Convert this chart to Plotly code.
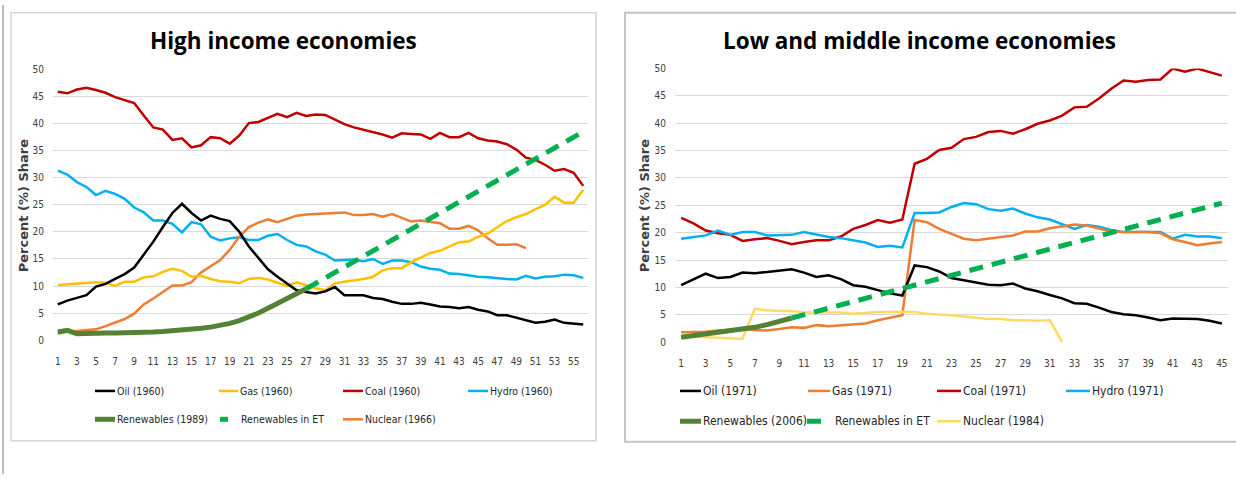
import plotly.graph_objects as go

# ---------------- High income economies (years since 1960) ----------------
hi_years = list(range(1, 57))
hi_oil = [6.6, 7.3, 7.8, 8.3, 9.9, 10.4, 11.3, 12.2, 13.4, 15.8,
          18.2, 20.9, 23.5, 25.2, 23.5, 22.1, 23.0, 22.4, 22.0, 20.0,
          17.3, 15.2, 13.1, 11.7, 10.5, 9.2, 8.9, 8.6, 9.0, 9.8,
          8.3, 8.3, 8.3, 7.8, 7.6, 7.1, 6.7, 6.7, 6.9, 6.6,
          6.2, 6.1, 5.9, 6.1, 5.6, 5.3, 4.6, 4.6, 4.1, 3.6,
          3.2, 3.4, 3.8, 3.2, 3.0, 2.9]
hi_gas = [10.2, 10.3, 10.5, 10.6, 10.7, 10.6, 10.0, 10.8, 10.8, 11.6,
          11.8, 12.6, 13.2, 12.8, 11.7, 11.9, 11.3, 10.9, 10.8, 10.5,
          11.3, 11.5, 11.2, 10.6, 10.0, 10.7, 10.1, 9.6, 9.2, 10.5,
          10.8, 11.0, 11.3, 11.7, 12.9, 13.3, 13.3, 14.4, 15.3, 16.1,
          16.5, 17.3, 18.1, 18.2, 19.1, 19.7, 20.8, 22.0, 22.7, 23.3,
          24.2, 25.0, 26.5, 25.4, 25.4, 27.8]
hi_coal = [45.9, 45.6, 46.3, 46.6, 46.2, 45.7, 44.9, 44.4, 43.8, 41.5,
           39.3, 38.9, 37.0, 37.3, 35.6, 36.0, 37.5, 37.3, 36.3, 37.8,
           40.1, 40.3, 41.1, 41.8, 41.2, 42.0, 41.4, 41.7, 41.6, 40.8,
           39.9, 39.3, 38.9, 38.5, 38.0, 37.4, 38.2, 38.1, 38.0, 37.2,
           38.3, 37.5, 37.5, 38.3, 37.3, 36.9, 36.7, 36.2, 35.2, 33.7,
           33.3, 32.4, 31.3, 31.6, 30.9, 28.5]
hi_hydro = [31.3, 30.6, 29.2, 28.3, 26.8, 27.6, 27.0, 26.1, 24.5, 23.6,
            22.1, 22.1, 21.5, 19.9, 21.8, 21.4, 19.1, 18.4, 18.8, 19.0,
            18.5, 18.5, 19.3, 19.6, 18.5, 17.6, 17.3, 16.4, 15.8, 14.7,
            14.8, 14.9, 14.6, 15.0, 14.1, 14.7, 14.7, 14.4, 13.6, 13.2,
            13.0, 12.3, 12.2, 11.9, 11.7, 11.6, 11.4, 11.3, 11.2, 11.9,
            11.4, 11.7, 11.8, 12.1, 12.0, 11.5]
hi_nuclear = [1.2, 1.6, 1.7, 1.8, 2.0, 2.6, 3.2, 3.9, 4.9, 6.6,
              7.7, 8.9, 10.1, 10.1, 10.7, 12.5, 13.6, 14.8, 16.7, 19.1,
              20.9, 21.7, 22.3, 21.8, 22.4, 23.0, 23.2, 23.3, 23.5, 23.6,
              23.6, 23.1, 23.1, 23.3, 22.8, 23.3, 22.6, 21.9, 22.1, 21.8,
              21.6, 20.6, 20.6, 21.1, 20.3, 18.8, 17.6, 17.6, 17.7, 17.0]
hi_renew = [1.5, 1.8, 1.2, 1.3, 1.3, 1.3, 1.3, 1.3, 1.4, 1.4,
            1.5, 1.6, 1.7, 1.8, 2.0, 2.2, 2.4, 2.7, 3.1, 3.6,
            4.2, 5.0, 5.9, 6.8, 7.7, 8.6, 9.5]
hi_et_years = list(range(27, 57))
hi_et = [9.5, 10.5, 11.5, 12.5, 13.5, 14.5, 15.5, 16.5, 17.5, 18.5,
         19.5, 20.5, 21.5, 22.5, 23.5, 24.5, 25.5, 26.5, 27.5, 28.5,
         29.5, 30.5, 31.5, 32.5, 33.5, 34.5, 35.5, 36.5, 37.5, 38.5]

# ------------- Low and middle income economies (years since 1971) -------------
lm_years = list(range(1, 46))
lm_oil = [10.4, 11.4, 12.5, 11.7, 11.9, 12.7, 12.6, 12.8, 13.1, 13.3,
          12.7, 11.9, 12.2, 11.5, 10.4, 10.1, 9.5, 8.9, 8.5, 14.0,
          13.7, 12.9, 11.7, 11.3, 11.0, 10.5, 10.4, 10.7, 9.8, 9.3,
          8.6, 8.0, 7.1, 7.0, 6.3, 5.5, 5.1, 4.9, 4.5, 4.0,
          4.3, 4.3, 4.2, 3.9, 3.4]
lm_gas = [1.8, 1.8, 1.9, 2.1, 2.3, 2.4, 2.2, 2.1, 2.4, 2.7,
          2.6, 3.1, 2.9, 3.1, 3.3, 3.4, 4.0, 4.5, 4.9, 22.3,
          21.9, 20.7, 19.8, 18.9, 18.6, 18.9, 19.2, 19.5, 20.2, 20.2,
          20.8, 21.1, 21.5, 21.3, 20.8, 20.2, 20.1, 20.1, 20.1, 19.9,
          18.8, 18.3, 17.7, 18.0, 18.3]
lm_coal = [22.7, 21.7, 20.4, 19.9, 19.6, 18.5, 18.8, 19.0, 18.5, 17.9,
           18.3, 18.6, 18.6, 19.3, 20.7, 21.4, 22.3, 21.8, 22.4, 32.6,
           33.5, 35.1, 35.5, 37.1, 37.5, 38.4, 38.6, 38.1, 38.9, 39.9,
           40.5, 41.4, 42.9, 43.0, 44.5, 46.3, 47.8, 47.6, 47.9, 48.0,
           50.0, 49.4, 50.0, 49.4, 48.7]
lm_hydro = [18.9, 19.2, 19.5, 20.4, 19.6, 20.1, 20.1, 19.5, 19.6, 19.6,
            20.1, 19.6, 19.2, 19.0, 18.6, 18.2, 17.4, 17.6, 17.3, 23.6,
            23.6, 23.7, 24.7, 25.4, 25.2, 24.3, 24.0, 24.4, 23.5, 22.8,
            22.4, 21.6, 20.7, 21.4, 21.1, 20.5, 20.1, 20.1, 20.1, 20.1,
            18.9, 19.6, 19.3, 19.3, 19.0]
lm_nuclear = [1.0, 1.0, 0.9, 0.8, 0.7, 0.6, 6.1, 5.8, 5.7, 5.7,
              5.4, 5.4, 5.5, 5.4, 5.2, 5.4, 5.5, 5.5, 5.5, 5.5,
              5.2, 5.1, 4.9, 4.7, 4.5, 4.2, 4.2, 4.0, 4.0, 3.9,
              4.0, 0.0]
lm_renew = [0.9, 1.2, 1.4, 1.7, 2.0, 2.3, 2.7, 3.2, 3.7, 4.4]
lm_et_years = list(range(10, 46))
lm_et = [4.4, 5.0, 5.6, 6.2, 6.8, 7.4, 8.0, 8.6, 9.2, 9.8,
         10.4, 11.0, 11.6, 12.2, 12.8, 13.4, 14.0, 14.6, 15.2, 15.8,
         16.4, 17.0, 17.6, 18.2, 18.8, 19.4, 20.0, 20.6, 21.2, 21.8,
         22.4, 23.0, 23.6, 24.2, 24.8, 25.4]

y_ticks = [0, 5, 10, 15, 20, 25, 30, 35, 40, 45, 50]

# ---------------- styling ----------------
W, H = 1236, 480
C_OIL = "#000000"
C_GAS_HI = "#FFC000"
C_COAL = "#C00000"
C_HYDRO = "#00B0F0"
C_REN = "#548235"
C_ET = "#00B050"
C_NUC_HI = "#ED7D31"
C_GAS_LM = "#ED7D31"
C_NUC_LM = "#FFD966"
NARROW = "DejaVu Sans Condensed, Liberation Sans Narrow, sans-serif"
TICK_FONT = dict(family=NARROW, size=10, color="#404040")


def px_x(x):
    return x / W


def px_y(y):
    return 1 - y / H


fig = go.Figure()


def add_line(x, y, color, width, xa, ya, dash=None):
    fig.add_trace(go.Scatter(
        x=x, y=y, mode="lines", xaxis=xa, yaxis=ya, showlegend=False,
        line=dict(color=color, width=width, dash=dash), hoverinfo="skip"))


# left panel series
add_line(hi_years, hi_hydro, C_HYDRO, 2.5, "x", "y")
add_line(hi_years, hi_coal, C_COAL, 2.5, "x", "y")
add_line(hi_years[:len(hi_nuclear)], hi_nuclear, C_NUC_HI, 2.5, "x", "y")
add_line(hi_years, hi_gas, C_GAS_HI, 2.5, "x", "y")
add_line(hi_years, hi_oil, C_OIL, 2.5, "x", "y")
add_line(hi_years[:len(hi_renew)], hi_renew, C_REN, 5, "x", "y")
add_line(hi_et_years, hi_et, C_ET, 5, "x", "y", dash="14px,9px")

# right panel series
add_line(lm_years, lm_coal, C_COAL, 2.5, "x2", "y2")
add_line(lm_years, lm_hydro, C_HYDRO, 2.5, "x2", "y2")
add_line(lm_years, lm_gas, C_GAS_LM, 2.5, "x2", "y2")
add_line(lm_years, lm_oil, C_OIL, 2.5, "x2", "y2")
add_line(lm_years[:len(lm_nuclear)], lm_nuclear, C_NUC_LM, 2.5, "x2", "y2")
add_line(lm_years[:len(lm_renew)], lm_renew, C_REN, 5, "x2", "y2")
add_line(lm_et_years, lm_et, C_ET, 5, "x2", "y2", dash="14px,9px")


def x_axis(n, left, right):
    vals = list(range(1, n + 1, 2))
    return dict(domain=[px_x(left), px_x(right)], range=[0.5, n + 0.5],
                tickvals=vals, ticktext=[str(v) for v in vals],
                tickfont=TICK_FONT, showgrid=False, zeroline=False,
                showline=False, ticks="outside", ticklen=12,
                tickcolor="rgba(0,0,0,0)", fixedrange=True)


def y_axis(top, bottom, anchor):
    return dict(domain=[px_y(bottom), px_y(top)], range=[0, 50],
                tickvals=y_ticks, tickfont=TICK_FONT, showgrid=True,
                gridcolor="#D9D9D9", gridwidth=1, zeroline=False,
                showline=False, ticks="outside", ticklen=6,
                tickcolor="rgba(0,0,0,0)", anchor=anchor, fixedrange=True)


shapes = []
annotations = []

# panel frames
shapes.append(dict(type="line", xref="paper", yref="paper", x0=px_x(3), x1=px_x(3),
                   y0=0, y1=1, line=dict(color="#BDBDBD", width=2)))
shapes.append(dict(type="rect", xref="paper", yref="paper", x0=px_x(11), x1=px_x(596),
                   y0=px_y(446), y1=px_y(8), line=dict(color="#D4D4D4", width=1.5)))
shapes.append(dict(type="rect", xref="paper", yref="paper", x0=px_x(625), x1=px_x(1245),
                   y0=px_y(447), y1=px_y(8), line=dict(color="#C4C4C4", width=2)))


def label(text, x, y, size, family, color="#000000", angle=0, xanchor="center"):
    annotations.append(dict(text=text, x=px_x(x), y=px_y(y), xref="paper", yref="paper",
                            showarrow=False, xanchor=xanchor, yanchor="middle",
                            textangle=angle,
                            font=dict(family=family, size=size, color=color)))


# titles
label("<b>High income economies</b>", 283, 36, 22.5, "Open Sans, sans-serif")
label("<b>Low and middle income economies</b>", 919, 36, 22.5, "Open Sans, sans-serif")

# y-axis titles
for xc in (23, 644):
    label("<b>Percent (%) Share</b>", xc, 205, 13, "DejaVu Sans, sans-serif",
          color="#404040", angle=-90)


def legend_item(x0, x1, y, color, width, text, size, text_x=None):
    shapes.append(dict(type="line", xref="paper", yref="paper",
                       x0=px_x(x0), x1=px_x(x1), y0=px_y(y), y1=px_y(y),
                       line=dict(color=color, width=width)))
    tx = text_x if text_x is not None else x1
    label(text, tx, y, size, NARROW, color="#262626", xanchor="left")


# left legend
LS = 10.5
legend_item(95, 115, 395, C_OIL, 2.5, "Oil (1960)", LS)
legend_item(219, 238, 395, C_GAS_HI, 2.5, "Gas (1960)", LS)
legend_item(343, 363, 395, C_COAL, 2.5, "Coal (1960)", LS)
legend_item(468, 488, 395, C_HYDRO, 2.5, "Hydro (1960)", LS)
legend_item(95, 115, 424, C_REN, 5, "Renewables (1989)", LS)
legend_item(220, 228, 424, C_ET, 5, "Renewables in ET", LS, text_x=239)
legend_item(343, 363, 424, C_NUC_HI, 2.5, "Nuclear (1966)", LS)

# right legend
RS = 12
legend_item(680, 701, 395, C_OIL, 2.5, "Oil (1971)", RS)
legend_item(808, 830, 395, C_GAS_LM, 2.5, "Gas (1971)", RS)
legend_item(937, 961, 395, C_COAL, 2.5, "Coal (1971)", RS)
legend_item(1066, 1090, 395, C_HYDRO, 2.5, "Hydro (1971)", RS)
legend_item(680, 701, 426, C_REN, 5, "Renewables (2006)", RS)
legend_item(807, 821, 426, C_ET, 5, "Renewables in ET", RS, text_x=833)
legend_item(937, 961, 426, C_NUC_LM, 2.5, "Nuclear (1984)", RS)

fig.update_layout(
    width=W, height=H, margin=dict(l=0, r=0, t=0, b=0),
    paper_bgcolor="#FFFFFF", plot_bgcolor="#FFFFFF",
    showlegend=False,
    xaxis=dict(x_axis(56, 53, 588), anchor="y"),
    yaxis=y_axis(66, 343, "x"),
    xaxis2=dict(x_axis(45, 675, 1228), anchor="y2"),
    yaxis2=y_axis(65, 345, "x2"),
    shapes=shapes, annotations=annotations,
)

fig.write_html("out.html")
